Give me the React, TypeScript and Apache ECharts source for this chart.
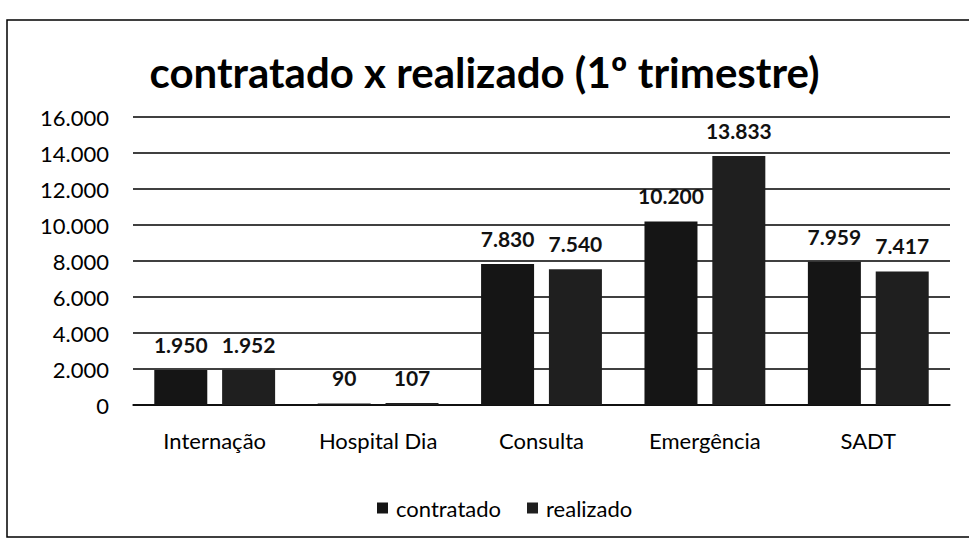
import React, { useEffect, useRef } from "react";
import * as echarts from "echarts";

const categories = ["Internação", "Hospital Dia", "Consulta", "Emergência", "SADT"];
const contratado = [1950, 90, 7830, 10200, 7959];
const realizado = [1952, 107, 7540, 13833, 7417];
const seriesNames = ["contratado", "realizado"];
const titleText = "contratado x realizado (1º trimestre)";

const fmt = (v: number) => String(Math.round(v)).replace(/\B(?=(\d{3})+(?!\d))/g, ".");

export default function App() {
  const ref = useRef<HTMLDivElement>(null);
  useEffect(() => {
    document.body.style.margin = "0";
    const chart = echarts.init(ref.current!, null, { renderer: "svg" });
    const font = "Lato, 'Open Sans', sans-serif";
    const label = {
      show: true,
      position: "top" as const,
      distance: 15,
      fontFamily: font,
      fontWeight: "bold" as const,
      fontSize: 21,
      color: "#111",
      formatter: (p: any) => fmt(p.value),
    };
    chart.setOption({
      animation: false,
      backgroundColor: "#fff",
      title: {
        text: titleText,
        left: "center",
        top: 46,
        textStyle: { fontFamily: font, fontWeight: "bold", fontSize: 42, color: "#000" },
      },
      graphic: [
        {
          type: "rect",
          shape: { x: 7, y: 20, width: 980, height: 517 },
          style: { fill: "none", stroke: "#000", lineWidth: 1.5 },
          silent: true,
        },
      ],
      legend: {
        data: seriesNames,
        left: 372,
        top: 492,
        itemWidth: 11,
        itemHeight: 11,
        itemGap: 26,
        icon: "rect",
        textStyle: { fontFamily: font, fontSize: 22, color: "#000", padding: [0, 0, 0, 3] },
      },
      grid: { left: 133, right: 19, top: 117, bottom: 541 - 405, containLabel: false },
      xAxis: {
        type: "category",
        data: categories,
        axisLine: { lineStyle: { color: "#000", width: 1.5 } },
        axisTick: { show: false },
        axisLabel: { fontFamily: font, fontSize: 22, color: "#000", margin: 24 },
      },
      yAxis: {
        type: "value",
        min: 0,
        max: 16000,
        interval: 2000,
        axisLine: { show: false },
        axisTick: { show: false },
        splitLine: { lineStyle: { color: "#000", width: 1.5 } },
        axisLabel: {
          fontFamily: font,
          fontSize: 22,
          color: "#000",
          margin: 24,
          formatter: (v: number) => fmt(v),
        },
      },
      series: [
        {
          name: seriesNames[0],
          type: "bar",
          data: contratado,
          barWidth: 53,
          barGap: "28%",
          itemStyle: { color: "#151515" },
          label,
        },
        {
          name: seriesNames[1],
          type: "bar",
          data: realizado,
          barWidth: 53,
          itemStyle: { color: "#1f1f1f" },
          label,
        },
      ],
    });
    return () => chart.dispose();
  }, []);
  return <div ref={ref} style={{ position: "fixed", left: 0, top: 0, width: 969, height: 541 }} />;
}
